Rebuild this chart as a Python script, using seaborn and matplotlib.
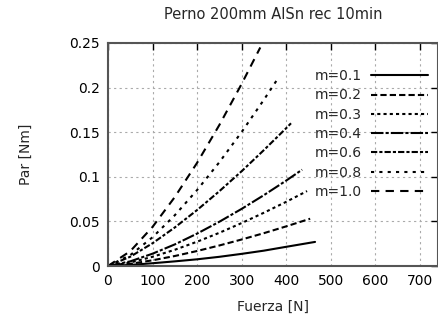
import matplotlib
matplotlib.use("Agg")
import matplotlib.pyplot as plt
import seaborn as sns
import numpy as np
import pandas as pd
from matplotlib.ticker import FuncFormatter, MultipleLocator

labels = ["m=0.1", "m=0.2", "m=0.3", "m=0.4", "m=0.6", "m=0.8", "m=1.0"]

x_m01 = [0, 50, 100, 150, 200, 250, 300, 350, 400, 465]
y_m01 = [0, 0.0012, 0.0031, 0.0052, 0.0075, 0.0103, 0.0136, 0.0172, 0.0215, 0.027]

x_m02 = [0, 50, 100, 150, 200, 250, 300, 350, 400, 454]
y_m02 = [0, 0.0024, 0.0064, 0.0112, 0.0168, 0.0230, 0.0297, 0.0368, 0.0444, 0.053]

x_m03 = [0, 50, 100, 150, 200, 250, 300, 350, 400, 447]
y_m03 = [0, 0.0039, 0.0103, 0.0182, 0.0272, 0.0372, 0.0481, 0.0597, 0.0719, 0.084]

x_m04 = [0, 50, 100, 150, 200, 250, 300, 350, 400, 436]
y_m04 = [0, 0.0052, 0.0138, 0.0242, 0.0363, 0.0496, 0.0640, 0.0794, 0.0957, 0.108]

x_m06 = [0, 50, 100, 150, 200, 250, 300, 350, 400, 411]
y_m06 = [0, 0.0104, 0.0255, 0.0432, 0.0627, 0.0838, 0.1062, 0.1299, 0.1544, 0.160]

x_m08 = [0, 50, 100, 150, 200, 250, 300, 350, 380]
y_m08 = [0, 0.0122, 0.0322, 0.0569, 0.0851, 0.1163, 0.1501, 0.1863, 0.209]

x_m10 = [0, 50, 100, 150, 200, 250, 300, 342]
y_m10 = [0, 0.0166, 0.0438, 0.0773, 0.1156, 0.158, 0.204, 0.245]

xs = [x_m01, x_m02, x_m03, x_m04, x_m06, x_m08, x_m10]
ys = [y_m01, y_m02, y_m03, y_m04, y_m06, y_m08, y_m10]

title = "Perno 200mm AlSn rec 10min"
xlabel = "Fuerza [N]"
ylabel = "Par [Nm]"

styles = ["-", (0, (3, 1.5)), (0, (1.5, 1.5)), (0, (6, 1, 1.5, 1)),
          (0, (3, 1, 1.5, 1)), (0, (1.5, 2.5)), (0, (4, 3))]

sns.set_style("white")
plt.rcParams["font.family"] = ["DejaVu Sans"]

fig = plt.figure(figsize=(4.38, 3.29), dpi=100)
ax = fig.add_axes([108/438, 63/329, 329.5/438, 223/329])

for lab, xv, yv, ls in zip(labels, xs, ys, styles):
    df = pd.DataFrame({"x": xv, "y": yv})
    sns.lineplot(data=df, x="x", y="y", ax=ax, color="black", linestyle=ls,
                 linewidth=1.5, label=lab, sort=False)

ax.set_xlim(0, 740)
ax.set_ylim(0, 0.25)
ax.xaxis.set_major_locator(MultipleLocator(100))
ax.yaxis.set_major_locator(MultipleLocator(0.05))
ax.yaxis.set_major_formatter(FuncFormatter(lambda v, p: f"{v:g}"))
ax.grid(True, color="#aaaaaa", linestyle=(0, (2, 3)), linewidth=0.8)
ax.tick_params(direction="in", length=5, width=1, top=True, right=True,
               labelsize=10, pad=6, colors="black")
for s in ax.spines.values():
    s.set_color("#555555")
    s.set_linewidth(1.5)

ax.set_xlabel(xlabel, fontsize=10, labelpad=8)
ax.set_ylabel(ylabel, fontsize=10, labelpad=26)
ax.set_title(title, fontsize=10.5, pad=17)

leg = ax.legend(loc="upper right", bbox_to_anchor=(0.995, 0.92), frameon=False,
                markerfirst=False, fontsize=10, handlelength=4.1,
                labelspacing=0.38, handletextpad=0.6, borderaxespad=0.2)

fig.savefig("out.png", dpi=100)
